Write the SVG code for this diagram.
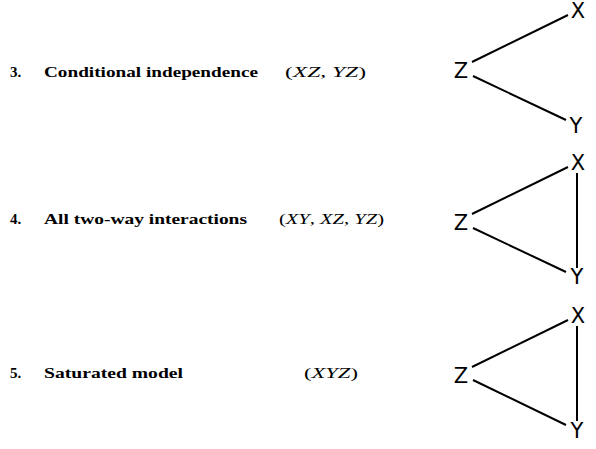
<svg xmlns="http://www.w3.org/2000/svg" width="596" height="449" viewBox="0 0 596 449">
<style>
.b{font-family:"Liberation Serif",serif;font-weight:bold;font-size:15px;fill:#000}
.m{font-family:"Liberation Serif",serif;font-size:15px;fill:#000}
.i{font-style:italic}
.n{font-family:"DejaVu Sans",sans-serif;font-size:21px;fill:#000;text-anchor:middle}
.e{stroke:#000;stroke-width:2;fill:none}
</style>
<rect width="596" height="449" fill="#fff"/>
<g id="row3">
<text class="b" x="10" y="77">3.</text>
<text class="b" x="44" y="77" textLength="214" lengthAdjust="spacingAndGlyphs">Conditional independence</text>
<text class="m" x="285" y="77" textLength="81" lengthAdjust="spacingAndGlyphs">(<tspan class="i">XZ</tspan>, <tspan class="i">YZ</tspan>)</text>
</g>
<g id="row4">
<text class="b" x="10" y="224">4.</text>
<text class="b" x="44" y="224" textLength="203" lengthAdjust="spacingAndGlyphs">All two-way interactions</text>
<text class="m" x="279" y="224" textLength="105" lengthAdjust="spacingAndGlyphs">(<tspan class="i">XY</tspan>, <tspan class="i">XZ</tspan>, <tspan class="i">YZ</tspan>)</text>
</g>
<g id="row5">
<text class="b" x="10" y="378">5.</text>
<text class="b" x="44" y="378" textLength="139" lengthAdjust="spacingAndGlyphs">Saturated model</text>
<text class="m" x="304" y="378" textLength="54" lengthAdjust="spacingAndGlyphs">(<tspan class="i">XYZ</tspan>)</text>
</g>
<g id="connectors">
<line class="e" x1="472" y1="62" x2="568" y2="15"/>
<line class="e" x1="473" y1="76" x2="566" y2="120"/>
<line class="e" x1="472" y1="214" x2="568" y2="167"/>
<line class="e" x1="473" y1="228" x2="566" y2="272"/>
<line class="e" x1="577" y1="173" x2="577" y2="268"/>
<line class="e" x1="472" y1="367" x2="568" y2="320"/>
<line class="e" x1="473" y1="380" x2="566" y2="425"/>
<line class="e" x1="577" y1="326" x2="577" y2="421"/>
</g>
<g id="g1X"><text class="n" x="578" y="18">X</text></g>
<g id="g1Z"><text class="n" x="461" y="78">Z</text></g>
<g id="g1Y"><text class="n" x="576" y="133">Y</text></g>
<g id="g2X"><text class="n" x="578" y="170">X</text></g>
<g id="g2Z"><text class="n" x="461" y="230">Z</text></g>
<g id="g2Y"><text class="n" x="577" y="284">Y</text></g>
<g id="g3X"><text class="n" x="578" y="323">X</text></g>
<g id="g3Z"><text class="n" x="461" y="383">Z</text></g>
<g id="g3Y"><text class="n" x="577" y="438">Y</text></g>
</svg>
